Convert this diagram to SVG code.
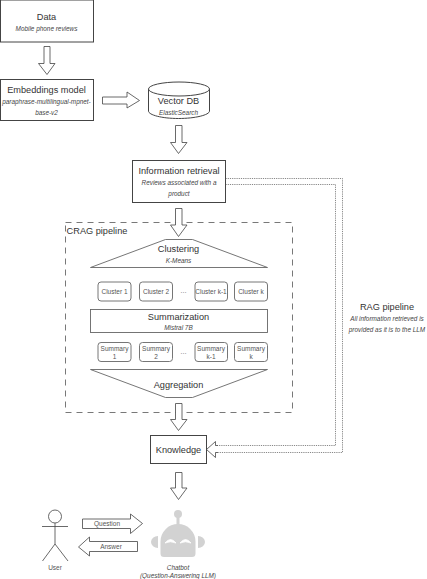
<svg xmlns="http://www.w3.org/2000/svg" width="427" height="579" viewBox="0 0 427 579">
<style>
text{font-family:"Liberation Sans",Arial,sans-serif;fill:#333;text-anchor:middle}
.t{font-size:9.200px}
.s{font-size:6.400px;font-style:italic;fill:#444}
.c{font-size:6.500px;fill:#555}
.b{fill:#fff;stroke:#444;stroke-width:1}
.r{fill:#fff;stroke:#666;stroke-width:.9}
.a{fill:#fff;stroke:#444;stroke-width:.8}
.d{fill:none;stroke:#555;stroke-width:.7;stroke-dasharray:1.2 1}
</style>
<rect width="427" height="579" fill="#fff"/>
<g id="connectors">
<path class="d" d="M225.500 178.500H342.500V452.500H215"/>
<path class="d" d="M225.500 184.500H335.500V445.500H215"/>
<path fill="none" stroke="#555" stroke-width=".8" stroke-dasharray="6 5" d="M65.500 222.500H292.500V412.500H65.500Z"/>
<path class="a" d="M44 46.500H50V63.500H55L47 74.500 38.500 63.500H44Z"/>
<path class="a" d="M102.500 97H127V92L139.500 100.500 127 108V104H102.500Z"/>
<path class="a" d="M175.500 125.500H182V142.500H187L178.500 153.500 170.500 142.500H175.500Z"/>
<path class="a" d="M175.500 208.500H182V225H187L178.500 236.500 170.500 225H175.500Z"/>
<path class="a" d="M175.500 403.500H182V419.500H187L178.500 430.500 170.500 419.500H175.500Z"/>
<path class="a" d="M175.500 472.500H182V488H187L178.500 499.500 170.500 488H175.500Z"/>
<path class="a" d="M218 445.500H215.500V441.500L206.500 449.500 215.500 457.500V452.500H218"/>
<path class="a" d="M82.500 519H130.500V514L142.500 523.500 130.500 533.500V528.500H82.500Z"/>
<path class="a" d="M137.500 541.500H89.500V537L78.500 547 89.500 556V551.500H137.500Z"/>
</g>
<g id="data"><rect class="b" x=".5" y="0" width="93" height="42"/><text class="t" x="46.500" y="19.500">Data</text><text class="s" x="46.500" y="30.500">Mobile phone reviews</text></g>
<g id="embeddings"><rect class="b" x=".5" y="79.500" width="93" height="41"/><text class="t" x="46.500" y="92.500">Embeddings model</text><text class="s" x="46.500" y="103.500">paraphrase-multilingual-mpnet-</text><text class="s" x="46.500" y="115">base-v2</text></g>
<g id="vectordb"><path class="b" d="M148.500 89V111C148.500 115 162 118.500 178.500 118.500S209.500 115 209.500 111V89"/><ellipse class="b" cx="179" cy="89" rx="30.500" ry="7"/><text class="t" x="178.500" y="104">Vector DB</text><text class="s" x="178.500" y="115">ElasticSearch</text></g>
<g id="retrieval"><rect class="b" x="132.500" y="160.500" width="93" height="42"/><text class="t" x="179" y="174">Information retrieval</text><text class="s" x="179" y="185">Reviews associated with a</text><text class="s" x="179" y="196">product</text></g>
<text class="t" x="97" y="234">CRAG pipeline</text>
<g id="clustering"><path class="r" d="M90.500 267.500L165.500 239.500H192.500L267.500 267.500Z"/><text class="t" x="178.500" y="252">Clustering</text><text class="s" x="178.500" y="263">K-Means</text></g>
<g id="cluster1"><rect class="r" x="98" y="282" width="33" height="19" rx="3"/><text class="c" x="114.500" y="293.500">Cluster 1</text></g>
<g id="cluster2"><rect class="r" x="139.500" y="282" width="33" height="19" rx="3"/><text class="c" x="156" y="293.500">Cluster 2</text></g>
<text class="c" x="183.500" y="293">…</text>
<g id="clusterk1"><rect class="r" x="195" y="282" width="32.500" height="19" rx="3"/><text class="c" x="211" y="293.500">Cluster k-1</text></g>
<g id="clusterk"><rect class="r" x="234.500" y="282" width="33" height="19" rx="3"/><text class="c" x="251" y="293.500">Cluster k</text></g>
<g id="summarization"><rect class="r" x="90.500" y="309.500" width="177" height="23"/><text class="t" x="178.500" y="320">Summarization</text><text class="s" x="178.500" y="330">Mistral 7B</text></g>
<g id="summary1"><rect class="r" x="98" y="342.500" width="33" height="19" rx="3"/><text class="c" x="114.500" y="351">Summary</text><text class="c" x="114.500" y="359">1</text></g>
<g id="summary2"><rect class="r" x="139.500" y="342.500" width="33" height="19" rx="3"/><text class="c" x="156" y="351">Summary</text><text class="c" x="156" y="359">2</text></g>
<text class="c" x="183.500" y="354">…</text>
<g id="summaryk1"><rect class="r" x="195" y="342.500" width="32.500" height="19" rx="3"/><text class="c" x="211" y="351">Summary</text><text class="c" x="211" y="359">k-1</text></g>
<g id="summaryk"><rect class="r" x="234.500" y="342.500" width="33" height="19" rx="3"/><text class="c" x="251" y="351">Summary</text><text class="c" x="251" y="359">k</text></g>
<g id="aggregation"><path class="r" d="M90.500 369.500H267.500L192.500 397.500H165.500Z"/><text class="t" x="178.500" y="388">Aggregation</text></g>
<g id="knowledge"><rect class="b" x="150.500" y="435.500" width="56" height="28"/><text class="t" x="178.500" y="453">Knowledge</text></g>
<g id="rag"><text class="t" x="387" y="310">RAG pipeline</text><text class="s" x="387" y="321">All information retrieved is</text><text class="s" x="387" y="332">provided as it is to the LLM</text></g>
<g id="user" fill="none" stroke="#444" stroke-width=".8"><circle cx="55" cy="516.500" r="6.500"/><path d="M55 523V544M42 526.500H68M42.500 561L55 544 68 561"/><text class="c" x="55" y="569.500" stroke="none">User</text></g>
<g id="chatbot" fill="#d2d2d2"><circle cx="178" cy="514" r="4"/><rect x="176.500" y="516" width="3" height="9"/><path d="M164 557a3.500 3.500 0 0 1-3.500-3.500V541.500a17.500 17.500 0 0 1 35 0V553.500a3.500 3.500 0 0 1-3.500 3.500Z"/><path d="M158 536a7 6 0 0 0 0 12ZM198 536a7 6 0 0 1 0 12Z"/><path d="M165 543q5.500-7 11 0-5.500-2.500-11 0ZM180 543q5.500-7 11 0-5.500-2.500-11 0Z" fill="#fff" stroke="#fff" stroke-width=".8"/><text class="s" x="178" y="569.500">Chatbot</text><text class="s" x="178" y="577.500">(Question-Answering LLM)</text></g>
<text class="c" x="107" y="525.500">Question</text>
<text class="c" x="111" y="549">Answer</text>
</svg>
